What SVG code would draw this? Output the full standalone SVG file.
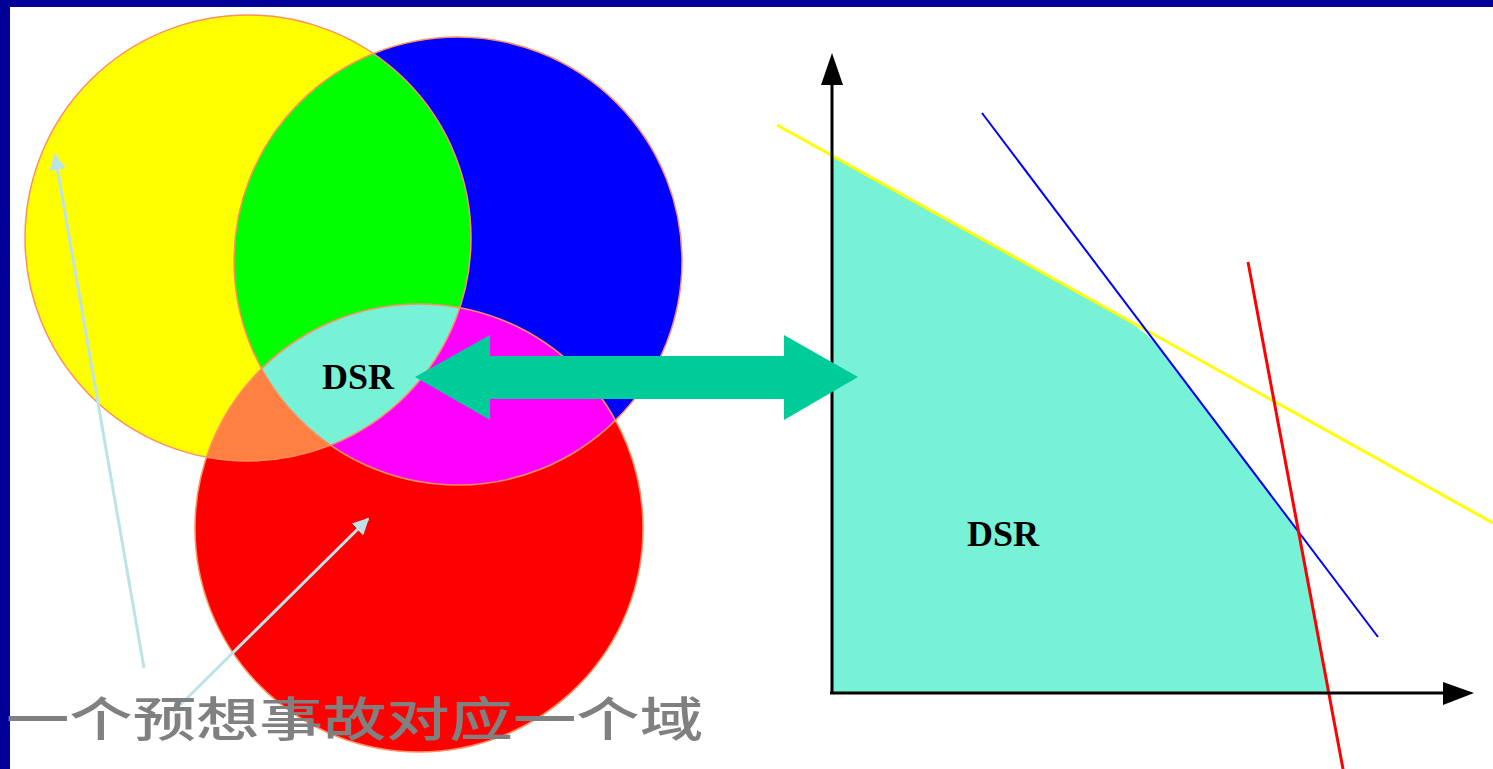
<svg xmlns="http://www.w3.org/2000/svg" width="1493" height="769" viewBox="0 0 1493 769">
<style>
.edge{fill:none;stroke:#FF9060;stroke-width:1.5}
.dsr{font-family:"Liberation Serif",serif;font-weight:bold;font-size:36px;fill:#000}
.lbl{font-family:"Noto Sans CJK SC",sans-serif;font-weight:500;font-size:47px;fill:#808080}
.pointer{stroke:#BDE3E6;stroke-width:3;fill:none}
.axis{stroke:#000;stroke-width:3;fill:none}
</style>
<defs>
<clipPath id="cy"><circle cx="248" cy="238" r="223"/></clipPath>
<clipPath id="cb"><circle cx="458" cy="261" r="224"/></clipPath>
<clipPath id="cr"><circle cx="419" cy="528" r="224"/></clipPath>
<marker id="pt" viewBox="0 0 10 10" refX="9" refY="5" markerWidth="5.5" markerHeight="5.5" orient="auto" markerUnits="strokeWidth">
<path d="M0,0 L10,5 L0,10 z" fill="#BDE3E6"/>
</marker>
</defs>
<rect width="1493" height="769" fill="#fff"/>
<rect width="1493" height="7" fill="#000099"/>
<rect width="10" height="769" fill="#000099"/>

<g id="venn">
<circle cx="248" cy="238" r="223" fill="#FFFF00"/>
<circle cx="458" cy="261" r="224" fill="#0000FF"/>
<circle cx="419" cy="528" r="224" fill="#FF0000"/>
<circle cx="458" cy="261" r="224" fill="#00FF00" clip-path="url(#cy)"/>
<circle cx="419" cy="528" r="224" fill="#FF8040" clip-path="url(#cy)"/>
<circle cx="419" cy="528" r="224" fill="#FF00FF" clip-path="url(#cb)"/>
<g clip-path="url(#cy)"><circle cx="419" cy="528" r="224" fill="#77F2D6" clip-path="url(#cb)"/></g>
<circle class="edge" cx="248" cy="238" r="223"/>
<circle class="edge" cx="458" cy="261" r="224"/>
<circle class="edge" cx="419" cy="528" r="224"/>
</g>
<g id="dsr-left"><text class="dsr" x="358" y="389" text-anchor="middle">DSR</text></g>

<g id="chart">
<path d="M832,156 L1120,316 Q1146,331 1160,349 L1298,532 L1328,693 L832,693 Z" fill="#77F2D6"/>
<line x1="777" y1="125" x2="1493" y2="523" stroke="#FFFF00" stroke-width="3"/>
<line x1="982" y1="113" x2="1378" y2="637" stroke="#0000FF" stroke-width="2"/>
<line x1="1248" y1="262" x2="1343" y2="769" stroke="#FF0000" stroke-width="3"/>
<line class="axis" x1="832" y1="694" x2="832" y2="80"/>
<polygon points="832,53 821,85 843,85" fill="#000"/>
<line class="axis" x1="830" y1="693" x2="1448" y2="693"/>
<polygon points="1474,693 1443,682 1443,705" fill="#000"/>
</g>
<g id="dsr-right"><text class="dsr" x="1003" y="546" text-anchor="middle">DSR</text></g>

<g id="connectors">
<polygon points="415,377 490,335 490,356 784,356 784,335 858,377 784,420 784,399 490,399 490,420" fill="#00CC99"/>
<line class="pointer" x1="144" y1="668" x2="55" y2="155" marker-end="url(#pt)"/>
<line class="pointer" x1="173" y1="712" x2="368" y2="519" marker-end="url(#pt)"/>
</g>

<g id="caption"><text class="lbl" x="6" y="736" textLength="697" lengthAdjust="spacingAndGlyphs">一个预想事故对应一个域</text></g>
</svg>
